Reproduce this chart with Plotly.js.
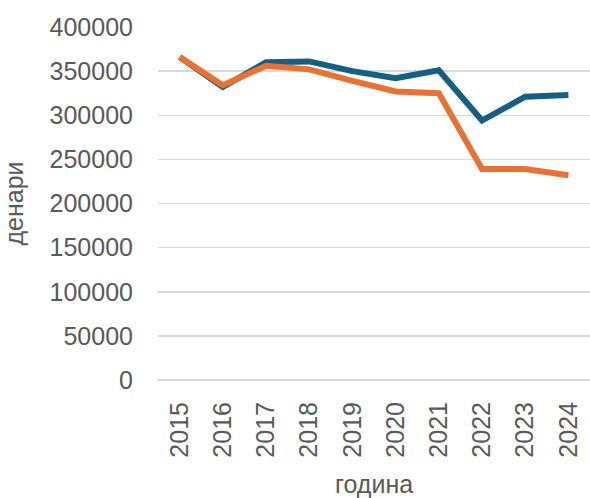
<!DOCTYPE html>
<html>
<head>
<meta charset="utf-8">
<script src="https://cdn.plot.ly/plotly-3.0.1.min.js"></script>
<style>html,body{margin:0;padding:0;background:#fff;}#chart{width:590px;height:498px;}</style>
</head>
<body>
<div id="chart"></div>
<script>
const years = ['2015','2016','2017','2018','2019','2020','2021','2022','2023','2024'];
const seriesBlue = [366000, 332000, 360000, 361000, 350000, 342000, 351000, 294000, 321000, 323000];
const seriesOrange = [366000, 334000, 356000, 352000, 339000, 327000, 325000, 239000, 239000, 232000];
const yTicks = [0, 50000, 100000, 150000, 200000, 250000, 300000, 350000, 400000];

const font = {family: 'Liberation Sans, Arial, sans-serif', size: 25, color: '#595959'};

const traces = [
  {x: years, y: seriesBlue, type: 'scatter', mode: 'lines', name: 'A',
   line: {color: '#156082', width: 6, shape: 'linear'}},
  {x: years, y: seriesOrange, type: 'scatter', mode: 'lines', name: 'B',
   line: {color: '#E97132', width: 6, shape: 'linear'}}
];

const layout = {
  width: 590, height: 498,
  margin: {l: 158, r: 0, t: 27, b: 118},
  paper_bgcolor: '#ffffff', plot_bgcolor: '#ffffff',
  showlegend: false,
  font: font,
  xaxis: {
    type: 'category', range: [-0.5, 9.5], tickangle: -90, showgrid: false, zeroline: false,
    showline: false, ticks: '', tickfont: font, ticklabelstandoff: 16,
    title: {text: 'година', font: font, standoff: 24},
    automargin: false
  },
  yaxis: {
    range: [0, 400000], tickvals: yTicks, ticktext: yTicks.map(String),
    showgrid: true, gridcolor: '#d9d9d9', gridwidth: 1.5,
    zeroline: true, zerolinecolor: '#d9d9d9', zerolinewidth: 1.5,
    showline: false, ticks: '', tickfont: font, ticklabelstandoff: 24,
    title: {text: 'денари', font: font, standoff: 18},
    automargin: false
  }
};

Plotly.newPlot('chart', traces, layout, {displayModeBar: false, staticPlot: true});
</script>
</body>
</html>
